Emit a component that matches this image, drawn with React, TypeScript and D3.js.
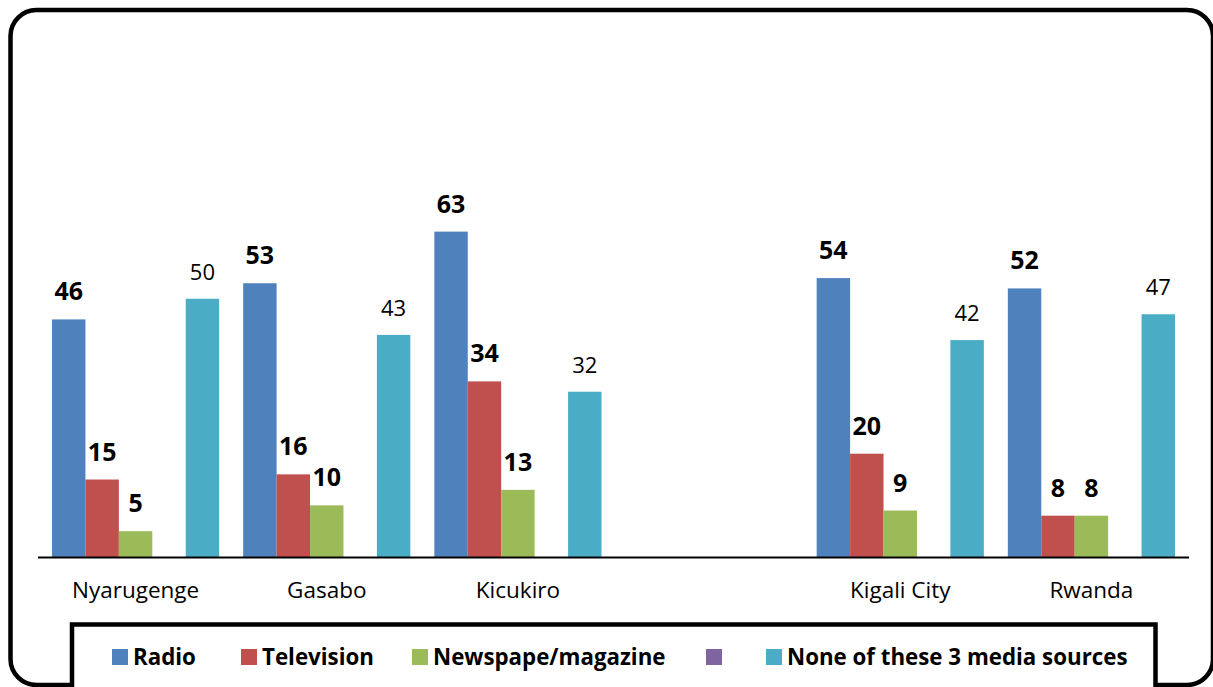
import React from 'react';
import * as d3 from 'd3';

// ---- data ----
const categories = ['Nyarugenge', 'Gasabo', 'Kicukiro', '', 'Kigali City', 'Rwanda'];
const seriesNames = ['Radio', 'Television', 'Newspape/magazine', '', 'None of these 3 media sources'];
const seriesColors = ['#4F81BD', '#C0504D', '#9BBB59', '#8064A2', '#4BACC6'];
const radio: (number | null)[] = [46, 53, 63, null, 54, 52];
const television: (number | null)[] = [15, 16, 34, null, 20, 8];
const newspaper: (number | null)[] = [5, 10, 13, null, 9, 8];
const unnamed: (number | null)[] = [null, null, null, null, null, null];
const noneOfThese: (number | null)[] = [50, 43, 32, null, 42, 47];
const seriesValues = [radio, television, newspaper, unnamed, noneOfThese];
const labelBold = [true, true, true, true, false];

// legend layout (swatch left x)
const legendX = [112, 241, 412, 706, 766];

const FONT = '"Open Sans", "DejaVu Sans", sans-serif';

export default function App() {
  const W = 1213;
  const H = 687;
  const baseY = 557;

  const x0 = d3
    .scaleBand<number>()
    .domain(d3.range(categories.length))
    .range([40, 1187])
    .paddingInner(0)
    .paddingOuter(0);
  const x1 = d3
    .scaleBand<number>()
    .domain(d3.range(seriesNames.length))
    .range([12, x0.bandwidth() - 12])
    .padding(0);
  const y = d3.scaleLinear().domain([0, 100]).range([baseY, 40.5]);

  return (
    <svg
      width={W}
      height={H}
      style={{ position: 'absolute', left: 0, top: 0, background: '#fff' }}
      fontFamily={FONT}
    >
      <rect x={0} y={0} width={W} height={H} fill="#fff" />
      {/* outer frame */}
      <rect x={10.5} y={10} width={1202.5} height={675} rx={26} ry={26} fill="none" stroke="#000" strokeWidth={4.5} />

      {/* bars */}
      {seriesValues.map((vals, si) => (
        <g key={si}>
          {vals.map((v, ci) =>
            v == null ? null : (
              <rect
                key={ci}
                x={(x0(ci) as number) + (x1(si) as number)}
                y={y(v)}
                width={x1.bandwidth()}
                height={baseY - y(v)}
                fill={seriesColors[si]}
              />
            )
          )}
        </g>
      ))}

      {/* value labels */}
      {seriesValues.map((vals, si) => (
        <g key={'l' + si}>
          {vals.map((v, ci) =>
            v == null ? null : (
              <text
                key={ci}
                x={(x0(ci) as number) + (x1(si) as number) + x1.bandwidth() / 2}
                y={y(v) - 19}
                textAnchor="middle"
                fontSize={labelBold[si] ? 25 : 22}
                fontWeight={labelBold[si] ? 700 : 400}
                fill="#000"
              >
                {v}
              </text>
            )
          )}
        </g>
      ))}

      {/* axis line */}
      <line x1={38} x2={1189} y1={baseY + 0.5} y2={baseY + 0.5} stroke="#000" strokeWidth={2} />

      {/* category labels */}
      {categories.map((c, ci) => (
        <text
          key={'c' + ci}
          x={(x0(ci) as number) + x0.bandwidth() / 2}
          y={598}
          textAnchor="middle"
          fontSize={22.5}
          fill="#000"
        >
          {c}
        </text>
      ))}

      {/* legend */}
      <rect x={72} y={624.5} width={1083.5} height={100} fill="#fff" stroke="#000" strokeWidth={4.5} />
      {seriesNames.map((s, si) => (
        <g key={'lg' + si}>
          <rect x={legendX[si]} y={649} width={16} height={16} fill={seriesColors[si]} />
          <text x={legendX[si] + 21} y={665} fontSize={22.3} fontWeight={700} fill="#000">
            {s}
          </text>
        </g>
      ))}
    </svg>
  );
}
